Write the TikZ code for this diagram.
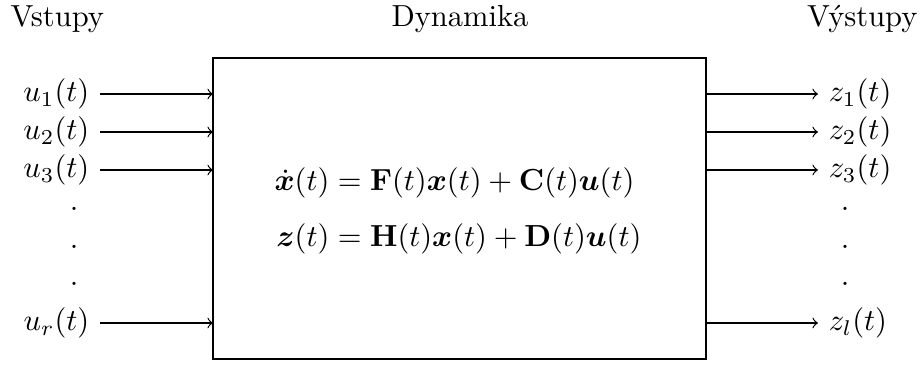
\documentclass[tikz,border=0pt]{standalone}
\usepackage{amsmath}
\usepackage{bm}
\begin{document}
\begin{tikzpicture}[x=0.328pt,y=-0.328pt,
  lbl/.style={inner sep=3.33pt},
  dotnode/.style={inner sep=0pt},
  sig/.style={->,line width=0.4pt},
  sysbox/.style={draw,line width=0.4pt,minimum width=493*0.328pt,minimum height=301*0.328pt,inner sep=0pt}]
\useasboundingbox (0,0) rectangle (921,368);
% titles
\node[anchor=base west,inner sep=0pt] (tin) at (10,26.7) {Vstupy};
\node[anchor=base,inner sep=0pt] (tdyn) at (460,26.7) {Dynamika};
\node[anchor=base east,inner sep=0pt] (tout) at (918,26.7) {Výstupy};
% system box
\node[sysbox] (sys) at (459.5,208.5) {};
\node (eq) at (458,211) {$\begin{aligned}
\dot{\bm{x}}(t) &= \mathbf{F}(t)\bm{x}(t) + \mathbf{C}(t)\bm{u}(t)\\[3.2pt]
\bm{z}(t) &= \mathbf{H}(t)\bm{x}(t) + \mathbf{D}(t)\bm{u}(t)
\end{aligned}$};
% inputs
\node[lbl,anchor=east] (u1) at (100,94) {$u_1(t)$};
\node[lbl,anchor=east] (u2) at (100,132) {$u_2(t)$};
\node[lbl,anchor=east] (u3) at (100,170) {$u_3(t)$};
\node[lbl,anchor=east] (ur) at (100,323) {$u_r(t)$};
\coordinate (a1) at (213,94);
\coordinate (a2) at (213,132);
\coordinate (a3) at (213,170);
\coordinate (ar) at (213,323);
\draw[sig] (u1.east) -- (a1);
\draw[sig] (u2.east) -- (a2);
\draw[sig] (u3.east) -- (a3);
\draw[sig] (ur.east) -- (ar);
\node[dotnode] (ld1) at (74,209) {.};
\node[dotnode] (ld2) at (74,247) {.};
\node[dotnode] (ld3) at (74,284) {.};
% outputs
\node[lbl,anchor=west] (z1) at (818,94) {$z_1(t)$};
\node[lbl,anchor=west] (z2) at (818,132) {$z_2(t)$};
\node[lbl,anchor=west] (z3) at (818,170) {$z_3(t)$};
\node[lbl,anchor=west] (zl) at (818,323) {$z_l(t)$};
\coordinate (b1) at (706,94);
\coordinate (b2) at (706,132);
\coordinate (b3) at (706,170);
\coordinate (bl) at (706,323);
\draw[sig] (b1) -- (z1.west);
\draw[sig] (b2) -- (z2.west);
\draw[sig] (b3) -- (z3.west);
\draw[sig] (bl) -- (zl.west);
\node[dotnode] (rd1) at (845,209) {.};
\node[dotnode] (rd2) at (845,247) {.};
\node[dotnode] (rd3) at (845,284) {.};
\end{tikzpicture}
\end{document}
